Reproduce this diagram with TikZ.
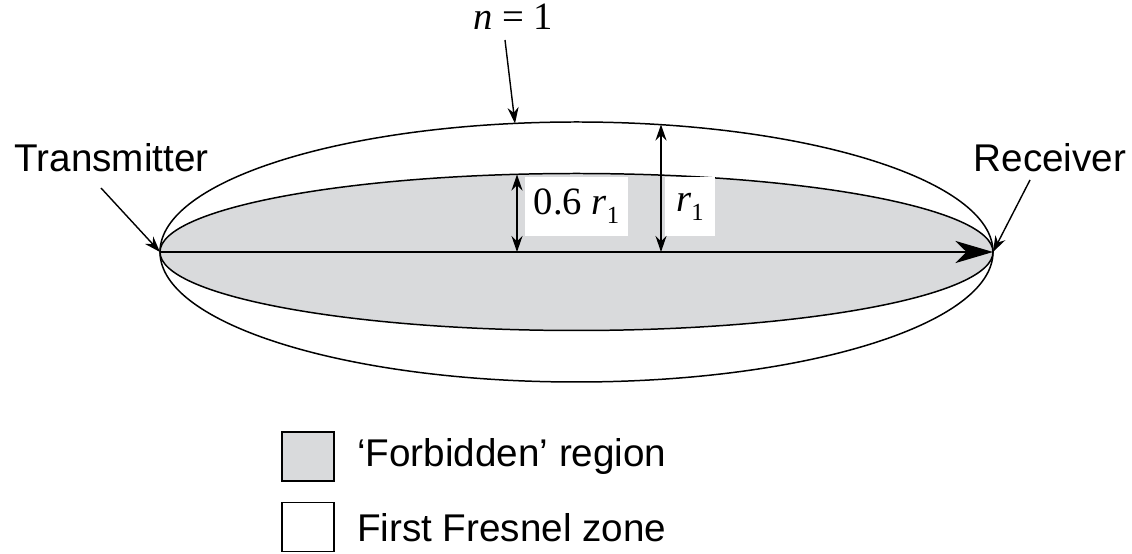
\documentclass[tikz,border=0pt]{standalone}
\usepackage{fontspec}
\setmainfont{Liberation Sans}
\newfontfamily\mathserif{Liberation Serif}
\usetikzlibrary{arrows.meta}
\definecolor{zonegrey}{HTML}{D9DADC}
\newcommand{\lblsize}{\fontsize{22}{26}\selectfont}
\newcommand{\mathsize}{\fontsize{22}{26}\selectfont\mathserif}
\newcommand{\rsub}{\textit{r}\raisebox{-0.5ex}{\fontsize{14}{16}\selectfont 1}}
\begin{document}
\begin{tikzpicture}[
	zone/.style={draw, line width=0.85pt},
	pointer/.style={-{Stealth[length=3.2mm,width=2.2mm]}, line width=0.8pt},
	dim/.style={{Stealth[length=3.2mm,width=2.2mm]}-{Stealth[length=3.2mm,width=2.2mm]}, line width=0.8pt},
	axis/.style={-{Stealth[length=7.5mm,width=4.4mm,inset=2.2mm]}, line width=1.6pt},
	lbl/.style={font=\lblsize, inner sep=1pt},
	mlbl/.style={font=\mathsize, fill=white, inner sep=0pt},
	key/.style={draw, line width=1pt, minimum width=1.04cm, minimum height=0.98cm, inner sep=0pt},
	]
	\useasboundingbox (0,0) rectangle (22.64,11.06);
	
	% first Fresnel zone and forbidden region
	\draw[zone, fill=white]    (11.53,6.02) ellipse [x radius=8.33, y radius=2.6];
	\draw[zone, fill=zonegrey] (11.53,6.02) ellipse [x radius=8.33, y radius=1.57];
	
	\coordinate (tx) at (3.2, 6.02);
	\coordinate (rx) at (19.86,6.02);
	\coordinate (outer) at (10.30,8.59);
	\coordinate (inner) at (10.34,7.57);
	\coordinate (base1) at (10.34,6.02);
	\coordinate (rtop) at (13.22,8.57);
	\coordinate (base2) at (13.22,6.02);
	
	\node[mlbl] (sixr) at (11.53,6.93) [minimum width=2.06cm, minimum height=1.18cm] {0.6 \rsub};
	\node[mlbl] (onr)  at (13.8, 6.93) [minimum width=1.0cm, minimum height=1.18cm] {\rsub};
	
	\draw[axis] (tx) -- (rx);
	\draw[dim] (inner) -- (base1);
	\draw[dim] (rtop) -- (base2);
	
	\node[lbl, font=\mathsize] (n1) at (10.26,10.72) {\textit{n} = 1};
	\node[lbl] (trans) at (2.23,7.9) {Transmitter};
	\node[lbl] (recv)  at (21.0,7.9) {Receiver};
	
	\draw[pointer] (10.10,10.26) -- (outer);
	\draw[pointer] (2.02,7.30) -- (tx);
	\draw[pointer] (20.6,7.46) -- (rx);
	
	% legend
	\node[key, fill=zonegrey] (kgrey)  at (6.16,1.93) {};
	\node[key, fill=white]    (kwhite) at (6.16,0.52) {};
	\node[lbl, right] (tgrey)  at (7.1,1.93) {‘Forbidden’ region};
	\node[lbl, right] (twhite) at (7.1,0.5) {First Fresnel zone};
	
\end{tikzpicture}
\end{document}
